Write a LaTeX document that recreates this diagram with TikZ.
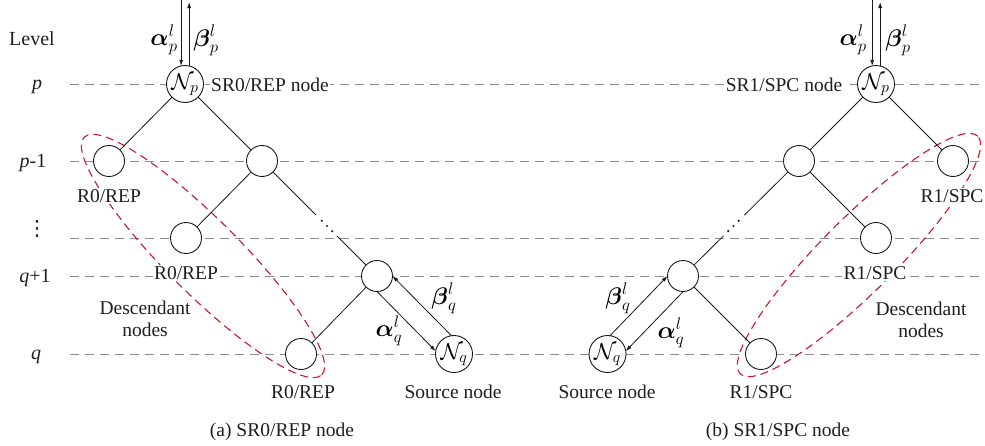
\RequirePackage{fix-cm}
\documentclass[tikz,border=0pt]{standalone}
\usepackage{amsmath}
\usepackage{fontspec}
\setmainfont{Liberation Serif}
\newfontfamily\symfont{DejaVu Sans}
\usetikzlibrary{arrows.meta,calc}
\definecolor{ellred}{RGB}{200,25,40}
\newcommand{\nlab}[1]{\makebox[24pt]{\raisebox{0pt}[15pt][5pt]{$\mathcal{N}_{#1}$}}}
\begin{document}
\begin{tikzpicture}[x=1pt,y=-1pt,
 lvl/.style={draw=black!45, line width=0.9pt, dash pattern=on 9pt off 6pt},
 ell/.style={draw=ellred, line width=1.1pt, dash pattern=on 8pt off 5pt},
 emp/.style={circle, draw=black!90, fill=white, line width=0.9pt, minimum size=31pt, inner sep=0pt, outer sep=0pt},
 src/.style={emp, minimum size=37pt, font=\fontsize{23}{23}\selectfont},
 txt/.style={font=\fontsize{19.5}{22}\selectfont, text=black!88, fill=white, inner sep=1.5pt, align=center},
 lvtxt/.style={font=\fontsize{20}{22}\selectfont, text=black!88, inner sep=1pt},
 lab/.style={font=\fontsize{24}{26}\selectfont, inner sep=0pt},
 conn/.style={draw=black!90, line width=0.8pt},
 arr/.style={conn, -{Latex[length=6pt,width=4pt]}},
 dotm/.style={fill=black!90},
]
\useasboundingbox (0,0) rectangle (985,445);
% level lines
\foreach \yy in {84,161,238,276,354} \draw[lvl] (70,\yy) -- (985,\yy);
% descendant ellipses
\draw[ell, rotate around={-45:(203,256)}] (203,256) ellipse [x radius=168pt, y radius=37pt];
\draw[ell, rotate around={45:(859,255)}] (859,255) ellipse [x radius=168pt, y radius=37pt];
% level labels
\node[lvtxt] (lv0) at (32,39) {Level};
\node[lvtxt] (lv1) at (37,87) {\itshape p};
\node[lvtxt] (lv2) at (33,163) {{\itshape p}-1};
\node[lvtxt, font=\fontsize{21}{22}\selectfont] (lv3) at (37,229) {\symfont ⋮};
\node[lvtxt] (lv4) at (35,278) {{\itshape q}+1};
\node[lvtxt] (lv5) at (36,357) {\itshape q};
% ---------- left tree ----------
\node[src] (npa) at (185,84) {\nlab{p}};
\node[emp] (a1) at (109,161) {};
\node[emp] (a2) at (262,161) {};
\node[emp] (a3) at (186,238) {};
\node[emp] (a4) at (377,276) {};
\node[emp] (a5) at (301,354) {};
\node[src] (nqa) at (454,354) {\nlab{q}};
\draw[conn] (npa) -- (a1);
\draw[conn] (npa) -- (a2);
\draw[conn] (a2) -- (a3);
\draw[conn] (a2) -- ($(a2)!0.47!(a4)$);
\draw[conn] ($(a2)!0.65!(a4)$) -- (a4);
\fill[dotm] ($(a2)!0.52!(a4)$) circle (1.2pt);
\fill[dotm] ($(a2)!0.565!(a4)$) circle (1.2pt);
\fill[dotm] ($(a2)!0.61!(a4)$) circle (1.2pt);
\draw[conn] (a4) -- (a5);
\draw[arr] (a4.-90.6) -- (nqa.171.1);
\draw[arr] (nqa.98.1) -- (a4.-0.2);
\coordinate (topa) at (0,0);
\coordinate (topb) at (0,2);
\draw[arr] (npa.102.5 |- topa) -- (npa.102.5);
\draw[arr] (npa.77.5) -- (npa.77.5 |- topb);
\node[lab] (la1) at (164,40) {$\boldsymbol{\alpha}^{l}_{p}$};
\node[lab] (la2) at (206,40) {$\boldsymbol{\beta}^{l}_{p}$};
\node[lab] (la3) at (389,331) {$\boldsymbol{\alpha}^{l}_{q}$};
\node[lab] (la4) at (444,298) {$\boldsymbol{\beta}^{l}_{q}$};
\node[txt] (ta0) at (270,85) {SR0/REP node};
\node[txt] (ta1) at (109,196) {R0/REP};
\node[txt] (ta2) at (186,273) {R0/REP};
\node[txt] (ta3) at (303,392) {R0/REP};
\node[txt] (ta4) at (453,392) {Source node};
\node[txt, fill=none] (ta5) at (145,319) {Descendant\\nodes};
\node[txt] (cap1) at (282,432) {(a) SR0/REP node};
% ---------- right tree ----------
\node[src] (npb) at (876,84) {\nlab{p}};
\node[emp] (b1) at (953,161) {};
\node[emp] (b2) at (799,161) {};
\node[emp] (b3) at (876,238) {};
\node[emp] (b4) at (683,276) {};
\node[emp] (b5) at (761,354) {};
\node[src] (nqb) at (607.5,354) {\nlab{q}};
\draw[conn] (npb) -- (b1);
\draw[conn] (npb) -- (b2);
\draw[conn] (b2) -- (b3);
\draw[conn] (b2) -- ($(b2)!0.47!(b4)$);
\draw[conn] ($(b2)!0.65!(b4)$) -- (b4);
\fill[dotm] ($(b2)!0.52!(b4)$) circle (1.2pt);
\fill[dotm] ($(b2)!0.565!(b4)$) circle (1.2pt);
\fill[dotm] ($(b2)!0.61!(b4)$) circle (1.2pt);
\draw[conn] (b4) -- (b5);
\draw[arr] (b4.271.1) -- (nqb.9.4);
\draw[arr] (nqb.82.4) -- (b4.180.7);
\draw[arr] (npb.102.5 |- topa) -- (npb.102.5);
\draw[arr] (npb.77.5) -- (npb.77.5 |- topb);
\node[lab] (lb1) at (853,40) {$\boldsymbol{\alpha}^{l}_{p}$};
\node[lab] (lb2) at (898,40) {$\boldsymbol{\beta}^{l}_{p}$};
\node[lab] (lb3) at (671,333) {$\boldsymbol{\alpha}^{l}_{q}$};
\node[lab] (lb4) at (618,298) {$\boldsymbol{\beta}^{l}_{q}$};
\node[txt] (tb0) at (784,85) {SR1/SPC node};
\node[txt] (tb1) at (952,196) {R1/SPC};
\node[txt] (tb2) at (875,273) {R1/SPC};
\node[txt] (tb3) at (761,392) {R1/SPC};
\node[txt] (tb4) at (607,392) {Source node};
\node[txt, fill=none] (tb5) at (921,320) {Descendant\\nodes};
\node[txt] (cap2) at (778,432) {(b) SR1/SPC node};
\end{tikzpicture}
\end{document}
